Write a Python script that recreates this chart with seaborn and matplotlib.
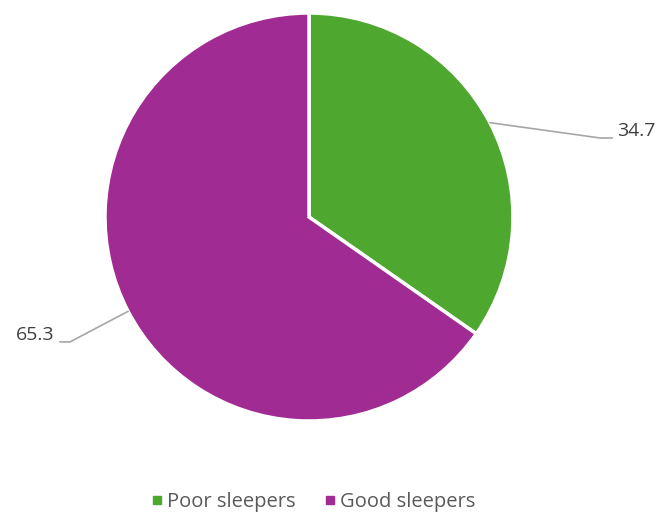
import numpy as np
import seaborn as sns
import matplotlib.pyplot as plt
from matplotlib.lines import Line2D

# Share of respondents
categories = ["Poor sleepers", "Good sleepers"]
values = [34.7, 65.3]
colors = ["#4EA72E", "#A02B93"]

sns.set_theme(style="white")
plt.rcParams["font.family"] = ["Open Sans", "DejaVu Sans"]

fig = plt.figure(figsize=(6.57, 5.14), dpi=100)
# square axes so the pie fills the area above the legend
ax = fig.add_axes([105 / 657, 93 / 514, 408 / 657, 408 / 514])

wedges, _ = ax.pie(values, colors=colors, startangle=90, counterclock=False,
                   radius=1, wedgeprops=dict(edgecolor="white", linewidth=2.5))
ax.set_xlim(-1, 1)
ax.set_ylim(-1, 1)
ax.set_aspect("equal")
ax.axis("off")

# leader line offsets (elbow dx, dy, tail length) per slice
offsets = [(0.54, -0.075, 0.06), (-0.285, -0.15, 0.05)]

for w, v, (dx, dy, tail) in zip(wedges, values, offsets):
    mid = np.deg2rad((w.theta1 + w.theta2) / 2)
    x0, y0 = np.cos(mid), np.sin(mid)
    side = np.sign(dx)
    ex, ey = x0 + dx, y0 + dy
    hx = ex + side * tail
    ax.plot([x0, ex, hx], [y0, ey, ey], color="#A6A6A6", lw=1.2,
            clip_on=False, solid_joinstyle="miter")
    ax.text(hx + side * 0.025, ey + 0.035, f"{v:.1f}",
            ha="left" if side > 0 else "right", va="center",
            fontsize=14, color="#404040", clip_on=False)

handles = [Line2D([], [], marker="s", linestyle="", markersize=6,
                  markerfacecolor=c, markeredgecolor=c) for c in colors]
fig.legend(handles, categories, loc="center", bbox_to_anchor=(0.474, 0.023),
           ncol=2, frameon=False, fontsize=14.5, handletextpad=0.0,
           handlelength=1.0, columnspacing=1.2, labelcolor="#595959")

fig.savefig("out.png", dpi=100)
